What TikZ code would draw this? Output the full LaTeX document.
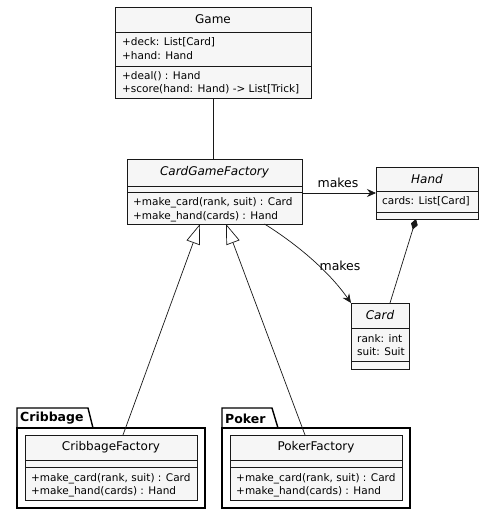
\documentclass[tikz,border=0pt]{standalone}
\usepackage{fontspec}
\setmainfont{DejaVu Sans}
\usetikzlibrary{arrows.meta}
\definecolor{clsfill}{HTML}{F6F6F6}
\definecolor{clsline}{HTML}{181818}
\begin{document}
\begin{tikzpicture}[x=1pt,y=-1pt,
  cls/.style={draw=clsline,fill=clsfill,line width=0.9pt,inner sep=0,outer sep=0},
  sep/.style={draw=clsline,line width=0.9pt},
  ttl/.style={font=\fontsize{12}{14}\selectfont,inner sep=0},
  ittl/.style={font=\fontsize{12}{14}\selectfont\itshape,inner sep=0},
  mem/.style={font=\fontsize{10.5}{13}\selectfont,anchor=west,inner sep=0},
  pkg/.style={draw=black,fill=white,line width=1.4pt},
  pkgname/.style={font=\fontsize{12.5}{14}\selectfont\bfseries,anchor=west,inner sep=0},
  lbl/.style={font=\fontsize{12.5}{14}\selectfont,inner sep=0},
  conn/.style={draw=clsline,line width=0.7pt},
  makesarrow/.style={conn,-{Stealth[length=9pt,width=8pt,inset=3pt]}},
  inh/.style={conn,-{Triangle[open,length=20pt,width=14pt,fill=white]}},
  comp/.style={conn,{Diamond[length=11pt,width=7pt]}-}
]
\path[fill=white] (0,0) rectangle (483,515);
\useasboundingbox (0,0) rectangle (483,515);

% Packages
\path[pkg] (17,428) -- (17,408) -- (88,408) -- (93,428) -- cycle;
\path[pkg] (17,428) rectangle (205,508);
\node[pkgname] (cribname) at (20,418.5) {Cribbage};
\path[pkg] (222,428) -- (222,408) -- (272,408) -- (278,428) -- cycle;
\path[pkg] (222,428) rectangle (410,508);
\node[pkgname] (pokername) at (225,418.5) {Poker};

% Game
\node[cls,minimum width=196pt,minimum height=91pt] (game) at (213,52.5) {};
\draw[sep] (115,32) -- (311,32);
\draw[sep] (115,66) -- (311,66);
\node[ttl] (gamet) at (213,19.5) {Game};
\node[mem] (g1) at (122,42.5) {+deck: List[Card]};
\node[mem] (g2) at (122,55.5) {+hand: Hand};
\node[mem] (g3) at (122,76.5) {+deal() : Hand};
\node[mem] (g4) at (122,89.5) {+score(hand: Hand) -> List[Trick]};

% CardGameFactory
\node[cls,minimum width=175pt,minimum height=65pt] (cgf) at (214.5,191.5) {};
\draw[sep] (127,186) -- (302,186);
\draw[sep] (127,192) -- (302,192);
\node[ittl] (cgft) at (214.5,172.5) {CardGameFactory};
\node[mem] (c1) at (133,203) {+make\_card(rank, suit) : Card};
\node[mem] (c2) at (133,216.5) {+make\_hand(cards) : Hand};

% Hand
\node[cls,minimum width=102pt,minimum height=52pt] (hand) at (427,193) {};
\draw[sep] (376,191) -- (478,191);
\draw[sep] (376,212) -- (478,212);
\node[ittl] (handt) at (427,179) {Hand};
\node[mem] (h1) at (382,201.5) {cards: List[Card]};

% Card
\node[cls,minimum width=58pt,minimum height=66pt] (card) at (380,336) {};
\draw[sep] (351,328) -- (409,328);
\draw[sep] (351,361) -- (409,361);
\node[ittl] (cardt) at (380,315.5) {Card};
\node[mem] (k1) at (357,338.5) {rank: int};
\node[mem] (k2) at (357,351.5) {suit: Suit};

% CribbageFactory
\node[cls,minimum width=172pt,minimum height=65pt] (crib) at (111,467.5) {};
\draw[sep] (25,460) -- (197,460);
\draw[sep] (25,467) -- (197,467);
\node[ttl] (cribt) at (111,447.5) {CribbageFactory};
\node[mem] (r1) at (31,478.5) {+make\_card(rank, suit) : Card};
\node[mem] (r2) at (31,491.5) {+make\_hand(cards) : Hand};

% PokerFactory
\node[cls,minimum width=172pt,minimum height=65pt] (poker) at (316,467.5) {};
\draw[sep] (230,460) -- (402,460);
\draw[sep] (230,467) -- (402,467);
\node[ttl] (pokert) at (316,447.5) {PokerFactory};
\node[mem] (p1) at (236,478.5) {+make\_card(rank, suit) : Card};
\node[mem] (p2) at (236,491.5) {+make\_hand(cards) : Hand};

% Connectors
\draw[conn] (game.south) -- (game.south |- cgf.north);
\draw[makesarrow] (cgf.east |- hand.west) -- (hand.west);
\node[lbl] (m1) at (338,182.5) {makes};
\draw[makesarrow] ([xshift=50pt]cgf.south) .. controls (295,243) and (328,270) .. (card.north west);
\node[lbl] (m2) at (340,265.5) {makes};
\draw[comp] ([xshift=-11pt]hand.south) -- ([xshift=10pt]card.north);
\draw[inh] ([xshift=12pt]crib.north) -- ([xshift=-14.5pt]cgf.south);
\draw[inh] ([xshift=-11pt]poker.north) -- ([xshift=11.5pt]cgf.south);
\end{tikzpicture}
\end{document}
